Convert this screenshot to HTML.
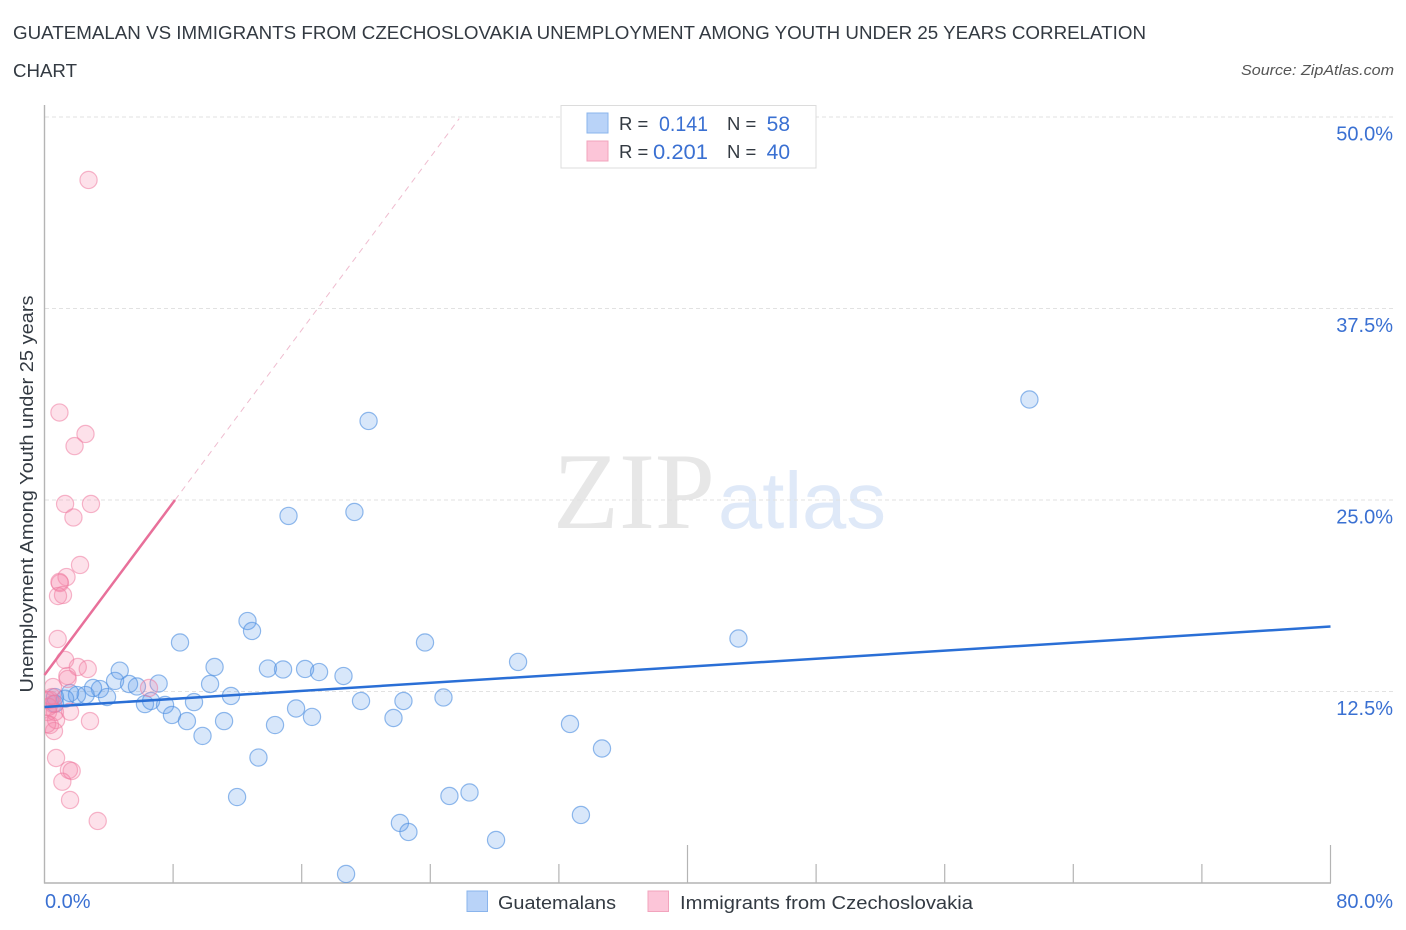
<!DOCTYPE html>
<html lang="en">
<head>
<meta charset="utf-8">
<title>Guatemalan vs Immigrants from Czechoslovakia Correlation Chart</title>
<style>
html,body{margin:0;padding:0;background:#fff;}
body{width:1406px;height:930px;overflow:hidden;}
svg{display:block;font-family:"Liberation Sans",sans-serif;}
</style>
</head>
<body>
<svg id="chart" width="1406" height="930" viewBox="0 0 1406 930" xmlns="http://www.w3.org/2000/svg">
  <defs>
    <clipPath id="plot-clip"><rect x="45" y="105" width="1348" height="778"/></clipPath>
  </defs>
  <text x="13" y="39" font-size="18.5" fill="#333a42" textLength="1133" lengthAdjust="spacingAndGlyphs">GUATEMALAN VS IMMIGRANTS FROM CZECHOSLOVAKIA UNEMPLOYMENT AMONG YOUTH UNDER 25 YEARS CORRELATION</text>
  <text x="13" y="77" font-size="18.5" fill="#333a42" textLength="64" lengthAdjust="spacingAndGlyphs">CHART</text>
  <text x="1394" y="75" font-size="15" font-style="italic" fill="#555" text-anchor="end" textLength="153" lengthAdjust="spacingAndGlyphs">Source: ZipAtlas.com</text>

  <g>
    <text x="553" y="528" font-family="'Liberation Serif',serif" font-size="109" fill="#e7e7e7" textLength="162" lengthAdjust="spacingAndGlyphs">ZIP</text>
    <text x="718" y="528" font-size="80" fill="#dfe9f8" textLength="168" lengthAdjust="spacingAndGlyphs">atlas</text>
  </g>

  <g id="grid"></g>
  <g id="axes"></g>
  <g id="blue-points" clip-path="url(#plot-clip)"></g>
  <g id="pink-points" clip-path="url(#plot-clip)"></g>
  <g id="trends"></g>

  <text transform="translate(33,494) rotate(-90)" font-size="18.5" fill="#333a42" text-anchor="middle" textLength="397" lengthAdjust="spacingAndGlyphs">Unemployment Among Youth under 25 years</text>

  <g>
    <rect x="561" y="105.500" width="255" height="62.500" fill="#fff" stroke="#dcdcdc" stroke-width="1"/>
    <rect x="587" y="113" width="21" height="20" fill="#b9d3f8" stroke="#8ab4ec" stroke-width="1"/>
    <rect x="587" y="141" width="21" height="20" fill="#fcc5d8" stroke="#f2a4bd" stroke-width="1"/>
    <text x="619" y="130" font-size="18.5" fill="#333a42">R =</text>
    <text x="708" y="131" font-size="21" fill="#3a70d2" text-anchor="end" textLength="49" lengthAdjust="spacingAndGlyphs">0.141</text>
    <text x="727" y="130" font-size="18.5" fill="#333a42">N =</text>
    <text x="790" y="131" font-size="21" fill="#3a70d2" text-anchor="end">58</text>
    <text x="619" y="158" font-size="18.5" fill="#333a42">R =</text>
    <text x="708" y="159" font-size="21" fill="#3a70d2" text-anchor="end" textLength="55" lengthAdjust="spacingAndGlyphs">0.201</text>
    <text x="727" y="158" font-size="18.5" fill="#333a42">N =</text>
    <text x="790" y="159" font-size="21" fill="#3a70d2" text-anchor="end">40</text>
  </g>

  <g>
    <rect x="467" y="891" width="20.500" height="20.500" fill="#b9d3f8" stroke="#8ab4ec" stroke-width="1"/>
    <text x="498" y="909" font-size="18.500" fill="#333a42" textLength="118" lengthAdjust="spacingAndGlyphs">Guatemalans</text>
    <rect x="648" y="891" width="20.500" height="20.500" fill="#fcc5d8" stroke="#f2a4bd" stroke-width="1"/>
    <text x="680" y="909" font-size="18.500" fill="#333a42" textLength="293" lengthAdjust="spacingAndGlyphs">Immigrants from Czechoslovakia</text>
  </g>
</svg>

<script>
const yTickValues = [12.5, 25, 37.5, 50];
const yTickLabels = ["12.5%", "25.0%", "37.5%", "50.0%"];
const xTickValues = [0, 8, 16, 24, 32, 40, 48, 56, 64, 72, 80];
const xMajorTicks = [40, 80];
const xEndLabels = ["0.0%", "80.0%"];

const blueX = [61.27,20.16,15.18,19.28,43.17,29.46,23.67,12.63,12.91,8.43,10.58,13.90,14.84,16.21,17.08,18.60,4.68,4.39,5.26,5.75,7.10,10.30,11.60,19.69,22.33,24.82,9.30,7.50,6.25,6.63,7.93,8.86,11.17,14.34,15.65,16.64,21.71,32.69,34.68,9.83,13.31,11.98,25.19,26.44,33.37,22.11,22.64,28.09,18.76,3.89,3.45,3.02,2.56,2.02,1.59,1.28,0.65,0.65];
const blueY = [31.56,30.16,23.96,24.22,15.96,14.43,15.70,17.10,16.45,15.70,14.10,14.00,13.94,13.97,13.77,13.51,13.86,13.19,12.99,12.83,13.02,12.99,12.21,11.88,11.88,12.11,11.81,11.62,11.68,11.88,10.97,10.57,10.57,10.31,11.39,10.84,10.77,10.38,8.78,9.60,8.19,5.61,5.68,5.91,4.44,3.92,3.33,2.81,0.59,12.14,12.66,12.73,12.27,12.27,12.40,12.03,12.14,11.70];

const pinkX = [2.74,0.93,2.55,1.87,1.28,2.89,1.80,2.21,1.37,0.96,0.93,1.15,0.84,0.82,1.28,2.07,2.69,1.42,1.44,0.53,6.50,1.59,2.83,0.72,1.52,1.69,1.11,1.59,3.31,0.34,0.53,0.22,0.65,0.16,0.34,0.72,0.59,0.16,0.47,0.25];
const pinkY = [45.89,30.71,29.31,28.52,24.74,24.74,23.86,20.76,19.97,19.58,19.65,18.80,18.73,15.93,14.56,14.10,13.97,13.51,13.32,12.79,12.73,11.18,10.57,8.16,7.38,7.31,6.61,5.42,4.05,11.95,11.68,11.16,11.16,11.95,10.31,10.64,9.92,10.38,12.14,11.50];

const blueTrendX = [0, 80];
const blueTrendY = [11.49, 16.74];
const pinkSolidX = [0, 8.12];
const pinkSolidY = [13.58, 25.0];
const pinkDashX = [8.12, 25.8];
const pinkDashY = [25.0, 49.9];

const SVGNS = "http://www.w3.org/2000/svg";
const xScale = v => 44.5 + v * 16.075;
const yScale = v => 883 - v * 15.32;

function make(tag, parentId, attrs) {
  const el = document.createElementNS(SVGNS, tag);
  for (const k in attrs) el.setAttribute(k, attrs[k]);
  document.getElementById(parentId).appendChild(el);
  return el;
}

yTickValues.forEach(function (v, i) {
  const line = make("line", "grid", {x1: 45, x2: 1393, y1: yScale(v), y2: yScale(v), stroke: "#e2e2e2", "stroke-width": 1, "stroke-dasharray": "4 3"});
  
  
  const label = make("text", "axes", {x: 1393, y: yScale(v) + 23.5, "font-size": 20, fill: "#3a70d2", "text-anchor": "end"});
  label.textContent = yTickLabels[i];
  
  
});

const yAxisLine = make("line", "axes", {x1: 44.5, x2: 44.5, y1: 105, y2: 883.5, stroke: "#b4b4b4", "stroke-width": 1.4});


const xAxisLine = make("line", "axes", {x1: 44, x2: 1331, y1: 883, y2: 883, stroke: "#b4b4b4", "stroke-width": 1.4});



xTickValues.forEach(function (v) {
  if (v === 0) return;
  const top = xMajorTicks.indexOf(v) >= 0 ? 845 : 864;
  const tick = make("line", "axes", {x1: xScale(v), x2: xScale(v), y1: top, y2: 883, stroke: "#b4b4b4", "stroke-width": 1.2});
  
  
});

const xLabelLeft = make("text", "axes", {x: 45, y: 908, "font-size": 20, fill: "#3a70d2"});
xLabelLeft.textContent = xEndLabels[0];


const xLabelRight = make("text", "axes", {x: 1393, y: 908, "font-size": 20, fill: "#3a70d2", "text-anchor": "end"});
xLabelRight.textContent = xEndLabels[1];



blueX.forEach(function (v, i) {
  const c = make("circle", "blue-points", {cx: xScale(v), cy: yScale(blueY[i]), r: 8.6, fill: "#5d9ceb", "fill-opacity": 0.24, stroke: "#4f8fe0", "stroke-opacity": 0.62, "stroke-width": 1.2});
  
  
});

pinkX.forEach(function (v, i) {
  const c = make("circle", "pink-points", {cx: xScale(v), cy: yScale(pinkY[i]), r: 8.6, fill: "#f583a6", "fill-opacity": 0.24, stroke: "#ef7ba0", "stroke-opacity": 0.55, "stroke-width": 1.2});
  
  
});

const pinkDash = make("line", "trends", {x1: xScale(pinkDashX[0]), y1: yScale(pinkDashY[0]), x2: xScale(pinkDashX[1]), y2: yScale(pinkDashY[1]), stroke: "#efbccf", "stroke-width": 1, "stroke-dasharray": "6 5"});


const pinkSolid = make("line", "trends", {x1: xScale(pinkSolidX[0]), y1: yScale(pinkSolidY[0]), x2: xScale(pinkSolidX[1]), y2: yScale(pinkSolidY[1]), stroke: "#e8709a", "stroke-width": 2.5});


const blueTrend = make("line", "trends", {x1: xScale(blueTrendX[0]), y1: yScale(blueTrendY[0]), x2: xScale(blueTrendX[1]), y2: yScale(blueTrendY[1]), stroke: "#2a6fd6", "stroke-width": 2.5});


</script>
</body>
</html>
